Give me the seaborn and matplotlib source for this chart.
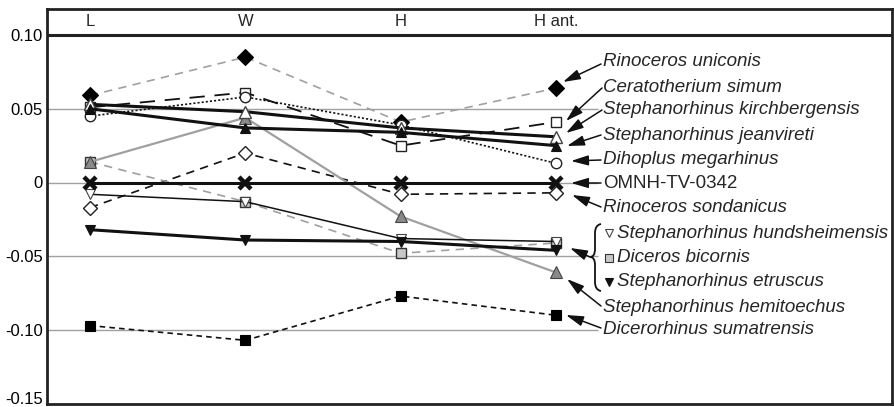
import numpy as np
import seaborn as sns
import matplotlib.pyplot as plt
import matplotlib.transforms as mtransforms
from matplotlib.path import Path
from matplotlib.patches import PathPatch

categories = ["L", "W", "H", "H ant."]

uniconis = [0.059, 0.085, 0.041, 0.064]
simum = [0.051, 0.061, 0.025, 0.041]
kirchbergensis = [0.053, 0.048, 0.037, 0.031]
jeanvireti = [0.050, 0.037, 0.034, 0.025]
megarhinus = [0.045, 0.058, 0.039, 0.013]
omnh = [0.0, 0.0, 0.0, 0.0]
sondanicus = [-0.017, 0.020, -0.008, -0.007]
hundsheimensis = [-0.008, -0.013, -0.038, -0.040]
bicornis = [0.014, -0.013, -0.048, -0.041]
etruscus = [-0.032, -0.039, -0.040, -0.046]
hemitoechus = [0.014, 0.044, -0.023, -0.061]
sumatrensis = [-0.097, -0.107, -0.077, -0.090]

ytick_vals = [0.10, 0.05, 0.0, -0.05, -0.10, -0.15]
ytick_labels = ["0.10", "0.05", "0", "-0.05", "-0.10", "-0.15"]


# helpers: picture pixels -> data units (layout only)
def px2x(px):
    return (px - 90) / 155.33


def py2y(py):
    return (182.5 - py) / 1475.0


sns.set_theme(style="white")
plt.rcParams['font.family'] = ['Liberation Sans', 'DejaVu Sans']
plt.rcParams['lines.scale_dashes'] = False

fig = plt.figure(figsize=(8.95, 4.07), dpi=100)
ax = fig.add_axes([47 / 895, 3 / 407, 845 / 895, 395 / 407])

GREY = "#a0a0a0"
# name, values, color, lw, linestyle, marker, ms, mfc, mec, mew, zorder
series = [
    ("uniconis", uniconis, GREY, 1.2, (0, (6, 4.5)), "D", 8, "black", "black", 0.8, 3),
    ("simum", simum, "#111111", 1.3, (0, (11, 7)), "s", 7, "white", "#222222", 1.0, 3),
    ("megarhinus", megarhinus, "#111111", 1.2, (0, (1.5, 1.5)), "o", 7.5, "white", "#222222", 1.0, 3),
    ("kirchbergensis", kirchbergensis, "#111111", 2.2, "-", "^", 8, "white", "#444444", 1.0, 4),
    ("jeanvireti", jeanvireti, "#111111", 2.2, "-", "^", 7.5, "#111111", "#111111", 0.8, 4),
    ("sondanicus", sondanicus, "#111111", 1.2, (0, (6, 4.5)), "D", 7.5, "white", "#222222", 1.0, 3),
    ("bicornis", bicornis, GREY, 1.2, (0, (6, 4.5)), "s", 7, "#c8c8c8", "#333333", 1.0, 3),
    ("hemitoechus", hemitoechus, GREY, 1.6, "-", "^", 8, "#8a8a8a", "#444444", 0.8, 3),
    ("hundsheimensis", hundsheimensis, "#111111", 1.1, "-", "v", 7.5, "white", "#444444", 0.8, 3),
    ("etruscus", etruscus, "#111111", 2.2, "-", "v", 7.5, "#111111", "#111111", 0.8, 4),
    ("sumatrensis", sumatrensis, "#111111", 1.2, (0, (4, 3)), "s", 7, "black", "black", 0.8, 3),
    ("omnh", omnh, "#111111", 2.2, "-", "x", 9, "#111111", "#111111", 3.2, 5),
]

x = np.arange(len(categories))

# grey reference lines
for v in [0.05, 0.0, -0.05, -0.10]:
    ax.hlines(v, -0.3, px2x(598), color=GREY, lw=1.0, zorder=1)

for name, vals, c, lw, ls, m, ms, mfc, mec, mew, z in series:
    sns.lineplot(x=x, y=vals, ax=ax, color=c, linewidth=lw, linestyle=ls,
                 marker=m, markersize=ms, markerfacecolor=mfc,
                 markeredgecolor=mec, markeredgewidth=mew, zorder=z,
                 legend=False)

# header band
ax.axhline(0.10, color="#222222", lw=2.2, zorder=6)
for i, cat in enumerate(categories):
    ax.text(i, py2y(22), cat, ha="center", va="center", fontsize=12)

ax.set_xlim(px2x(47), px2x(892))
ax.set_ylim(py2y(404), py2y(9))
ax.set_xticks([])
ax.set_yticks(ytick_vals)
ax.set_yticklabels(ytick_labels)
ax.tick_params(axis="y", length=0, pad=3, labelsize=12, labelcolor="black")
# lift the bottom tick label so it stays inside the picture
last = ax.get_yticklabels()[-1]
last.set_transform(last.get_transform() + mtransforms.ScaledTranslation(0, 4 / 72, fig.dpi_scale_trans))
ax.set_xlabel("")
ax.set_ylabel("")
for sp in ax.spines.values():
    sp.set_linewidth(2.0)
    sp.set_color("#222222")

# labels with arrows: text, label y px, arrow start px, arrow tip px
labels = [
    ("Rinoceros uniconis", 62, (601, 64), (563, 82)),
    ("Ceratotherium simum", 87, (602, 88), (566, 121)),
    ("Stephanorhinus kirchbergensis", 110, (602, 110), (566, 133)),
    ("Stephanorhinus jeanvireti", 135, (601, 135), (567, 146)),
    ("Dihoplus megarhinus", 160, (601, 160), (571, 161)),
    ("OMNH-TV-0342", 183, (601, 183), (571, 183)),
    ("Rinoceros sondanicus", 208, (601, 207), (572, 195)),
    ("Stephanorhinus hemitoechus", 307, (601, 306), (567, 279)),
    ("Dicerorhinus sumatrensis", 330, (601, 328), (566, 315)),
]
arrow_kw = dict(arrowstyle="-|>,head_length=0.75,head_width=0.22", color="#111111",
                lw=1.1, shrinkA=0, shrinkB=0, mutation_scale=14)
for text, ly, start, tip in labels:
    ax.text(px2x(603), py2y(ly), text, ha="left", va="center", fontsize=13.5,
            style="normal" if text.startswith("OMNH") else "italic", zorder=7)
    ax.annotate("", xy=(px2x(tip[0]), py2y(tip[1])),
                xytext=(px2x(start[0]), py2y(start[1])), arrowprops=arrow_kw, zorder=7)

# bracketed group
group = [
    ("Stephanorhinus hundsheimensis", 233, "v", "white", "#444444"),
    ("Diceros bicornis", 258, "s", "#c8c8c8", "#333333"),
    ("Stephanorhinus etruscus", 282, "v", "#111111", "#111111"),
]
for text, ly, m, mfc, mec in group:
    ax.plot([px2x(609)], [py2y(ly)], marker=m, ms=6, mfc=mfc, mec=mec, mew=0.8,
            ls="none", zorder=7)
    ax.text(px2x(617), py2y(ly), text, ha="left", va="center", fontsize=13.5,
            style="italic", zorder=7)

brace_px = [(601, 224), (595, 225), (595, 233), (595, 249), (595, 257), (590, 257),
            (595, 257), (595, 265), (595, 282), (595, 290), (601, 291)]
codes = [Path.MOVETO, Path.CURVE3, Path.CURVE3, Path.LINETO, Path.CURVE3, Path.CURVE3,
         Path.CURVE3, Path.CURVE3, Path.LINETO, Path.CURVE3, Path.CURVE3]
brace = Path([(px2x(a), py2y(b)) for a, b in brace_px], codes)
ax.add_patch(PathPatch(brace, fill=False, lw=1.3, color="#111111", zorder=7))
ax.annotate("", xy=(px2x(570), py2y(248)), xytext=(px2x(590), py2y(257)),
            arrowprops=arrow_kw, zorder=7)

fig.savefig("out.png", dpi=100)
